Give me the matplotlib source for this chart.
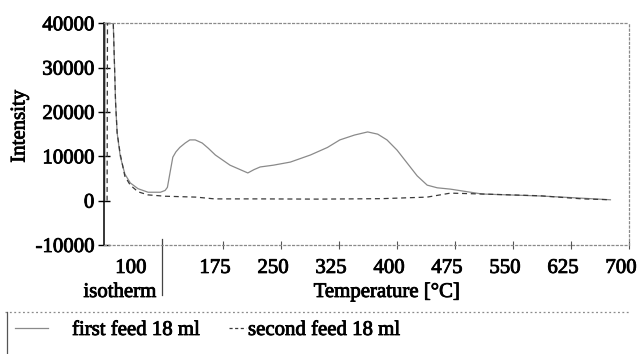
import matplotlib.pyplot as plt
import matplotlib.patheffects as pe
from matplotlib.lines import Line2D
from matplotlib.transforms import ScaledTranslation, blended_transform_factory

plt.rcParams['font.family'] = ['Liberation Serif', 'DejaVu Serif']
plt.rcParams['font.size'] = 15

# isotherm hold (left of the divider) followed by the temperature ramp
first_temp = [22, 22.5, 33, 36, 38, 42, 48, 55, 65, 78, 94, 100, 103, 107, 110, 114,
              119, 126, 132, 139, 148, 156, 165, 184, 207, 215, 223, 240, 262, 288,
              310, 326, 345, 362, 375, 387, 400, 413, 426, 439, 452, 469, 510, 585,
              635, 676]
first_int = [0, 40000, 40000, 22000, 15300, 10000, 6000, 4000, 2700, 1900, 1900, 2300,
             3000, 6900, 9800, 11000, 12000, 13000, 13700, 13700, 13000, 11800, 10300,
             8000, 6250, 7000, 7600, 8000, 8700, 10300, 12000, 13700, 14800, 15500,
             15000, 13700, 11400, 8500, 5600, 3500, 2900, 2600, 1500, 1060, 600, 200]

second_temp = [25, 25.5, 33, 36, 38, 42, 48, 55, 65, 78, 100, 140, 164, 220, 300, 380,
               439, 469, 510, 585, 640, 676]
second_int = [0, 40000, 40000, 22000, 15300, 10500, 5500, 3500, 2000, 1300, 1000, 800,
              400, 400, 350, 450, 800, 1700, 1500, 1100, 400, 200]

temp_ticks = [175, 250, 325, 400, 475, 550, 625, 700]
temp_labels = ['175', '250', '325', '400', '475', '550', '625', '700']
int_ticks = [-10000, 0, 10000, 20000, 30000, 40000]
iso_label = '100'
iso_label_x = 66
iso_end = 96

W, H = 643, 354
heavy = [pe.withStroke(linewidth=0.6, foreground='black')]

fig = plt.figure(figsize=(W / 100, H / 100), dpi=100)
ax = fig.add_axes([104 / W, 1 - 245 / H, 525 / W, 221.7 / H])

ax.plot(first_temp, first_int, color='#8a8a8a', lw=0.9, solid_joinstyle='round')
ax.plot(second_temp, second_int, color='#3a3a3a', lw=0.9, dashes=(4, 3))

ax.set_xlim(21, 700)
ax.set_ylim(-10000, 40000)

# frame: solid left axis, the others faint and broken
for side in ['top', 'bottom', 'right']:
    ax.spines[side].set_linestyle((0, (1.5, 2)))
    ax.spines[side].set_color('#8a8a8a')
    ax.spines[side].set_linewidth(0.9)
ax.spines['left'].set_linewidth(1.1)

ax.set_yticks(int_ticks)
ax.set_yticklabels([str(v) for v in int_ticks])
ax.tick_params(axis='y', direction='inout', length=8, width=1.0, pad=3)
for lbl in ax.get_yticklabels():
    lbl.set_path_effects(heavy)

ax.set_xticks(temp_ticks)
ax.set_xticklabels([])
ax.tick_params(axis='x', direction='inout', length=6, width=0.8, color='#555555')

# tick labels sit a little left of their ticks
shift = ScaledTranslation(-8 / 100, 0, fig.dpi_scale_trans)
trans = blended_transform_factory(ax.transData, ax.transAxes) + shift
for t, lab in zip(temp_ticks, temp_labels):
    ax.text(t, -0.126, lab, transform=trans, ha='center', va='baseline',
            path_effects=heavy)
ax.text(iso_label_x, -0.126, iso_label, transform=trans, ha='center', va='baseline',
        path_effects=heavy)

# divider between the isotherm and the ramp
div_trans = blended_transform_factory(ax.transData, ax.transAxes)
ax.add_line(Line2D([iso_end, iso_end], [0.025, -0.226], transform=div_trans,
                   color='#444444', lw=0.9, clip_on=False))

fig.text(120 / W, 1 - 297 / H, 'isotherm', ha='center', va='baseline',
         path_effects=heavy)
fig.text(387 / W, 1 - 297 / H, 'Temperature [°C]', ha='center', va='baseline',
         path_effects=heavy)
fig.text(20 / W, 1 - 126 / H, 'Intensity', rotation=90, ha='center', va='center',
         path_effects=heavy)

# legend strip along the bottom
fig.add_artist(Line2D([5 / W, 630 / W], [1 - 312 / H, 1 - 312 / H],
                      color='#8a8a8a', lw=0.9, linestyle=(0, (1.5, 2))))
fig.add_artist(Line2D([7 / W, 7 / W], [1 - 312 / H, 0], color='#555555', lw=0.9))
ly = 1 - 328 / H
fig.add_artist(Line2D([15 / W, 48 / W], [ly, ly], color='#8a8a8a', lw=0.9))
fig.text(72 / W, ly, 'first feed 18 ml', ha='left', va='center_baseline',
         path_effects=heavy)
fig.add_artist(Line2D([229 / W, 246 / W], [ly, ly], color='#3a3a3a', lw=0.9,
                      dashes=(2.5, 2)))
fig.text(248 / W, ly, 'second feed 18 ml', ha='left', va='center_baseline',
         path_effects=heavy)

fig.savefig('out.png', dpi=100)
